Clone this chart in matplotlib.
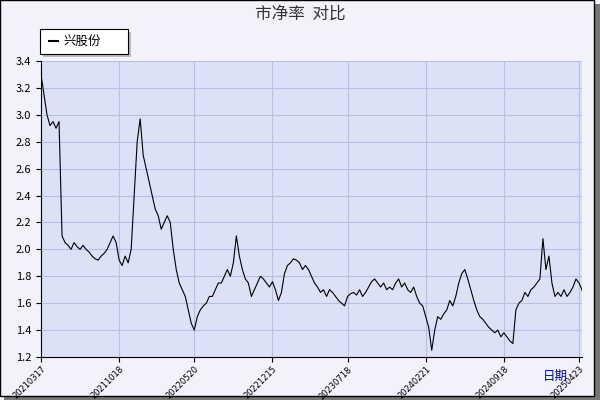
import matplotlib
matplotlib.use('Agg')
import matplotlib.pyplot as plt
from matplotlib.patches import Rectangle

plt.rcParams['font.family'] = ['Noto Sans CJK SC', 'DejaVu Sans']

# price-to-book ratio, roughly evenly spaced samples
pb = [3.3, 3.15, 3.0, 2.92, 2.95, 2.9, 2.95, 2.1, 2.05, 2.03, 2.0, 2.05, 2.02, 2.0, 2.03,
      2.0, 1.98, 1.95, 1.93, 1.92, 1.95, 1.97, 2.0, 2.05, 2.1, 2.05, 1.92, 1.88, 1.95, 1.9,
      2.0, 2.4, 2.8, 2.97, 2.7, 2.6, 2.5, 2.4, 2.3, 2.25, 2.15, 2.2, 2.25, 2.2, 2.0,
      1.85, 1.75, 1.7, 1.65, 1.55, 1.45, 1.4, 1.5, 1.55, 1.58, 1.6, 1.65, 1.65, 1.7, 1.75,
      1.75, 1.8, 1.85, 1.8, 1.9, 2.1, 1.95, 1.85, 1.78, 1.75, 1.65, 1.7, 1.75, 1.8, 1.78,
      1.75, 1.72, 1.76, 1.7, 1.62, 1.68, 1.82, 1.88, 1.9, 1.93, 1.92, 1.9, 1.85, 1.88, 1.85,
      1.8, 1.75, 1.72, 1.68, 1.7, 1.65, 1.7, 1.68, 1.65, 1.62, 1.6, 1.58, 1.65, 1.67, 1.68,
      1.66, 1.7, 1.65, 1.68, 1.72, 1.76, 1.78, 1.75, 1.72, 1.75, 1.7, 1.72, 1.7, 1.75, 1.78,
      1.72, 1.75, 1.7, 1.68, 1.72, 1.65, 1.6, 1.58, 1.5, 1.42, 1.25, 1.4, 1.5, 1.48, 1.52,
      1.55, 1.62, 1.58, 1.65, 1.75, 1.82, 1.85, 1.78, 1.7, 1.62, 1.55, 1.5, 1.48, 1.45, 1.42,
      1.4, 1.38, 1.4, 1.35, 1.38, 1.35, 1.32, 1.3, 1.55, 1.6, 1.62, 1.68, 1.65, 1.7, 1.72,
      1.75, 1.78, 2.08, 1.85, 1.95, 1.75, 1.65, 1.68, 1.65, 1.7, 1.65, 1.68, 1.72, 1.78, 1.75,
      1.7, 1.6, 1.58, 1.65, 1.52]
tick_pos = [0, 26, 51, 77, 102, 128, 154, 179]
tick_labels = ['20210317', '20211018', '20220520', '20221215', '20230718',
               '20240221', '20240918', '20250423']

fig = plt.figure(figsize=(6, 4), dpi=100, facecolor='#f2f2fa')
# outer frame with shadow
fig.patches.append(Rectangle((0.007, 0.0), 0.993, 0.99, transform=fig.transFigure,
                             facecolor='#777777', edgecolor='none', zorder=-2))
fig.patches.append(Rectangle((0.0, 0.01), 0.99, 0.99, transform=fig.transFigure,
                             facecolor='#f2f2fa', edgecolor='black', lw=1, zorder=-1))

ax = fig.add_axes([41/600, 1-357/400, 541/600, 296/400])
ax.set_facecolor('#dce1f5')
ax.plot(range(len(pb)), pb, color='black', lw=0.8)
ax.set_xlim(0, 180)
ax.set_ylim(1.2, 3.4)
ax.set_yticks([1.2, 1.4, 1.6, 1.8, 2.0, 2.2, 2.4, 2.6, 2.8, 3.0, 3.2, 3.4])
ax.set_xticks(tick_pos)
ax.set_xticklabels(tick_labels, rotation=45, ha='right', va='top', rotation_mode='anchor',
                   fontsize=6, family='DejaVu Sans')
ax.tick_params(axis='y', labelsize=8)
ax.tick_params(axis='x', pad=2)
ax.grid(color='#b4c0e8', lw=0.8)
for s in ['top', 'right']:
    ax.spines[s].set_visible(False)

fig.text(0.5, 0.965, '市净率  对比', ha='center', va='center', fontsize=12, color='#333333')
fig.text(0.925, 0.05, '日期', color='#0000cc', fontsize=9, ha='center')

# legend box with shadow
fig.patches.append(Rectangle((43/600, 1-57/400), 88/600, 25/400, transform=fig.transFigure,
                             facecolor='#bbbbbb', edgecolor='none'))
fig.patches.append(Rectangle((40/600, 1-54/400), 88/600, 25/400, transform=fig.transFigure,
                             facecolor='white', edgecolor='black', lw=0.8))
fig.lines.append(plt.Line2D([49/600, 58/600], [1-41/400, 1-41/400], transform=fig.transFigure,
                            color='black', lw=1.5))
fig.text(63/600, 1-41/400, '兴股份', va='center', fontsize=9)

fig.savefig('out.png', dpi=100, facecolor=fig.get_facecolor())
